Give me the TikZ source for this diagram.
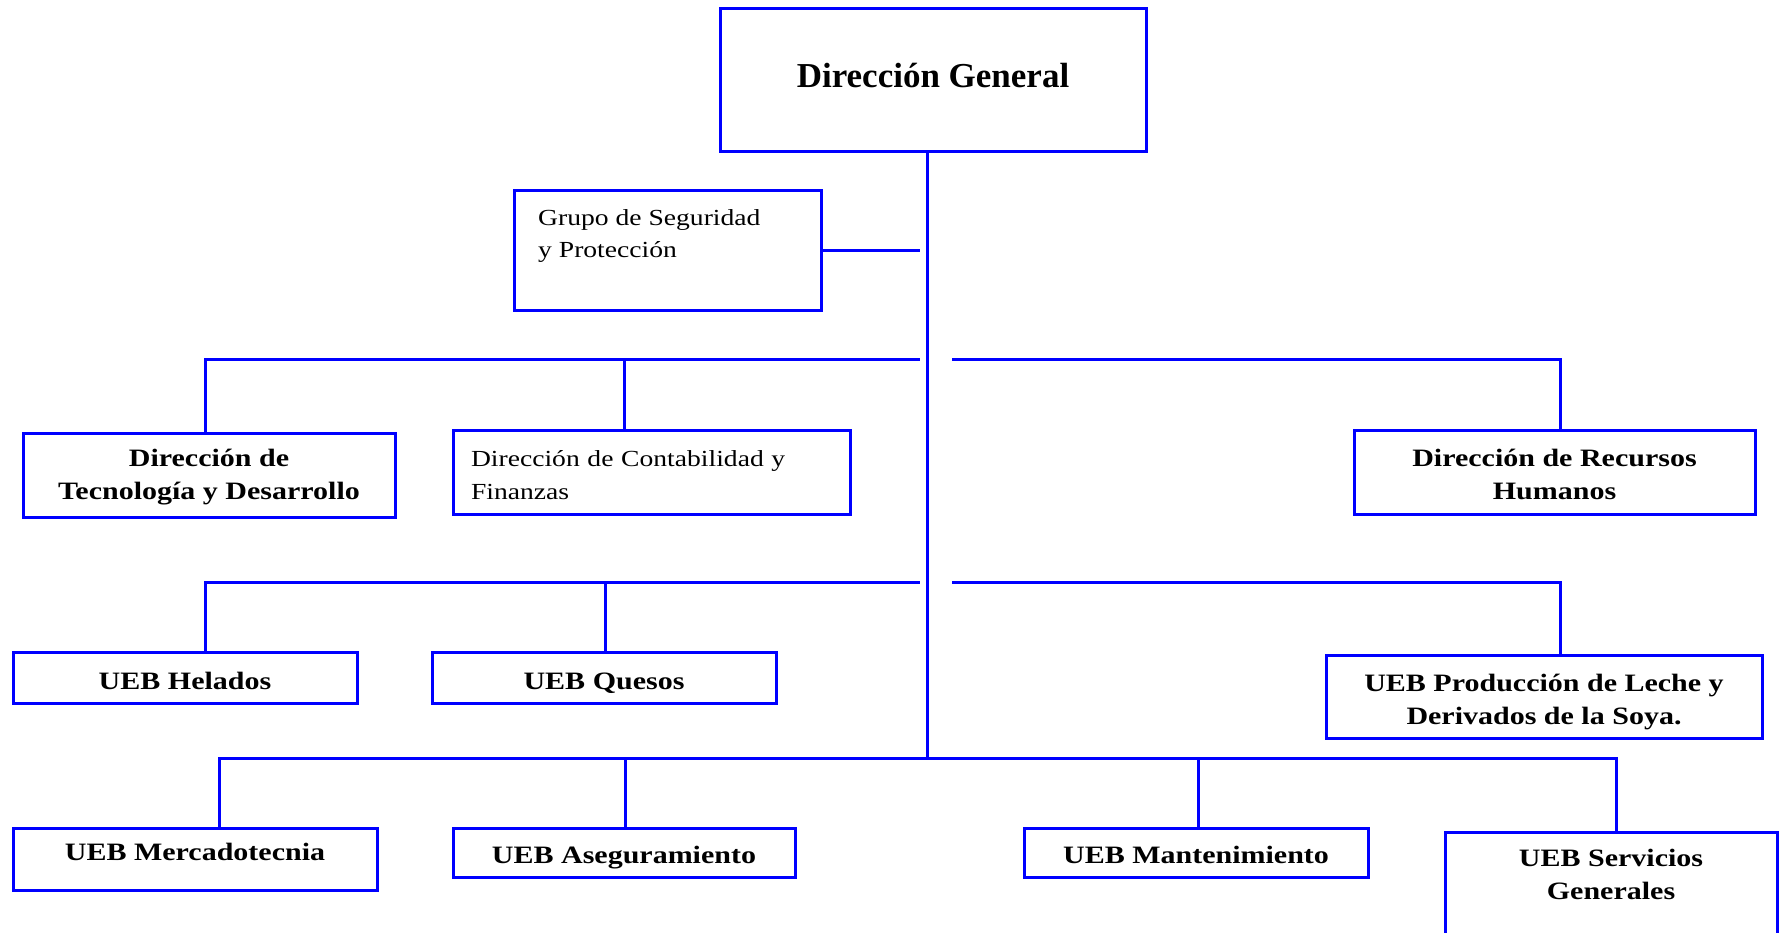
\documentclass[tikz,border=0pt]{standalone}
\usepackage{fontspec}
\setmainfont{Liberation Serif}
\newfontfamily\widefont[FakeStretch=1.2]{Liberation Serif}
\definecolor{orgblue}{RGB}{0,0,255}
\newcommand\firstline[1]{\rule{0pt}{#1}}
\tikzset{
  box/.style={draw=orgblue, line width=3pt, rectangle, inner sep=0pt, fill=white},
  wire/.style={draw=orgblue, line width=3pt},
  titlefont/.style={font=\bfseries\fontsize{35}{42}\selectfont},
  unitfont/.style={font=\widefont\bfseries\fontsize{25}{33}\selectfont, align=center},
  plainfont/.style={font=\widefont\fontsize{23}{32}\selectfont, align=left},
}
\begin{document}
\begin{tikzpicture}[x=1pt,y=-1pt]
\useasboundingbox (0,0) rectangle (1781,933);

% top management
\node[box, titlefont, text height=15pt, text depth=0pt, minimum width=426, minimum height=143] (dg) at (933,80.5) {Dirección General};

% staff group beside the trunk
\node[box, minimum width=307, minimum height=120] (grupo) at (667.5,251) {};
\node[plainfont, anchor=north west, inner sep=0pt] (grupotxt) at (538,209) {Grupo de Seguridad\\y Protección};

% first level: directorates
\node[box, unitfont, minimum width=372, minimum height=84] (tec) at (209,475) {\firstline{22pt}Dirección de\\Tecnología y Desarrollo};
\node[box, plainfont, font=\widefont\fontsize{23}{33}\selectfont, minimum height=84, inner xsep=18pt, text width=361pt] (cont) at (651.5,472) {\firstline{22pt}Dirección de Contabilidad y\\Finanzas};
\node[box, unitfont, minimum width=401, minimum height=84] (rrhh) at (1554.5,472) {\firstline{22pt}Dirección de Recursos\\Humanos};

% second level: production units
\node[box, unitfont, text height=24.5pt, text depth=0pt, minimum width=344, minimum height=51] (hel) at (185,677.5) {UEB Helados};
\node[box, unitfont, text height=24.5pt, text depth=0pt, minimum width=344, minimum height=51] (ques) at (604,677.5) {UEB Quesos};
\node[box, unitfont, minimum width=436, minimum height=83] (leche) at (1544,696.5) {\firstline{28pt}UEB Producción de Leche y\\Derivados de la Soya.};

% third level: support units
\node[box, unitfont, text height=17pt, text depth=14pt, minimum width=364, minimum height=62] (merc) at (195,859) {UEB Mercadotecnia};
\node[box, unitfont, text height=22pt, text depth=0pt, minimum width=342, minimum height=49] (aseg) at (624,852.5) {UEB Aseguramiento};
\node[box, unitfont, text height=22pt, text depth=0pt, minimum width=344, minimum height=49] (mant) at (1196,852.5) {UEB Mantenimiento};
\node[box, minimum width=332, minimum height=200, anchor=north] (serv) at (1611,831) {};
\node[unitfont, anchor=north, inner sep=0pt] (servtxt) at (1611,849) {UEB Servicios\\Generales};

% bus points
\coordinate (trunkend) at (927.5,758);
\coordinate (gend) at (920,251);
\coordinate (aL) at (205.5,360);
\coordinate (aLend) at (920,360);
\coordinate (aC) at (624,360);
\coordinate (aR) at (952,360);
\coordinate (aRend) at (1560,360);
\coordinate (bL) at (205.5,582.5);
\coordinate (bLend) at (920,582.5);
\coordinate (bC) at (605.5,582.5);
\coordinate (bR) at (952,582.5);
\coordinate (bRend) at (1560,582.5);
\coordinate (cL) at (219,758);
\coordinate (cA) at (625,758);
\coordinate (cM) at (1198,758);
\coordinate (cR) at (1616,758);

% trunk
\draw[wire] (dg.south -| trunkend) -- (trunkend);
\draw[wire] (grupo.east) -- (gend);

% first level bus
\draw[wire] (aL |- tec.north) -- (aL) -- (aLend);
\draw[wire] (aC) -- (aC |- cont.north);
\draw[wire] (aR) -- (aRend) -- (aRend |- rrhh.north);

% second level bus
\draw[wire] (bL |- hel.north) -- (bL) -- (bLend);
\draw[wire] (bC) -- (bC |- ques.north);
\draw[wire] (bR) -- (bRend) -- (bRend |- leche.north);

% third level bus
\draw[wire] (cL |- merc.north) -- (cL) -- (cR) -- (cR |- serv.north);
\draw[wire] (cA) -- (cA |- aseg.north);
\draw[wire] (cM) -- (cM |- mant.north);
\end{tikzpicture}
\end{document}
